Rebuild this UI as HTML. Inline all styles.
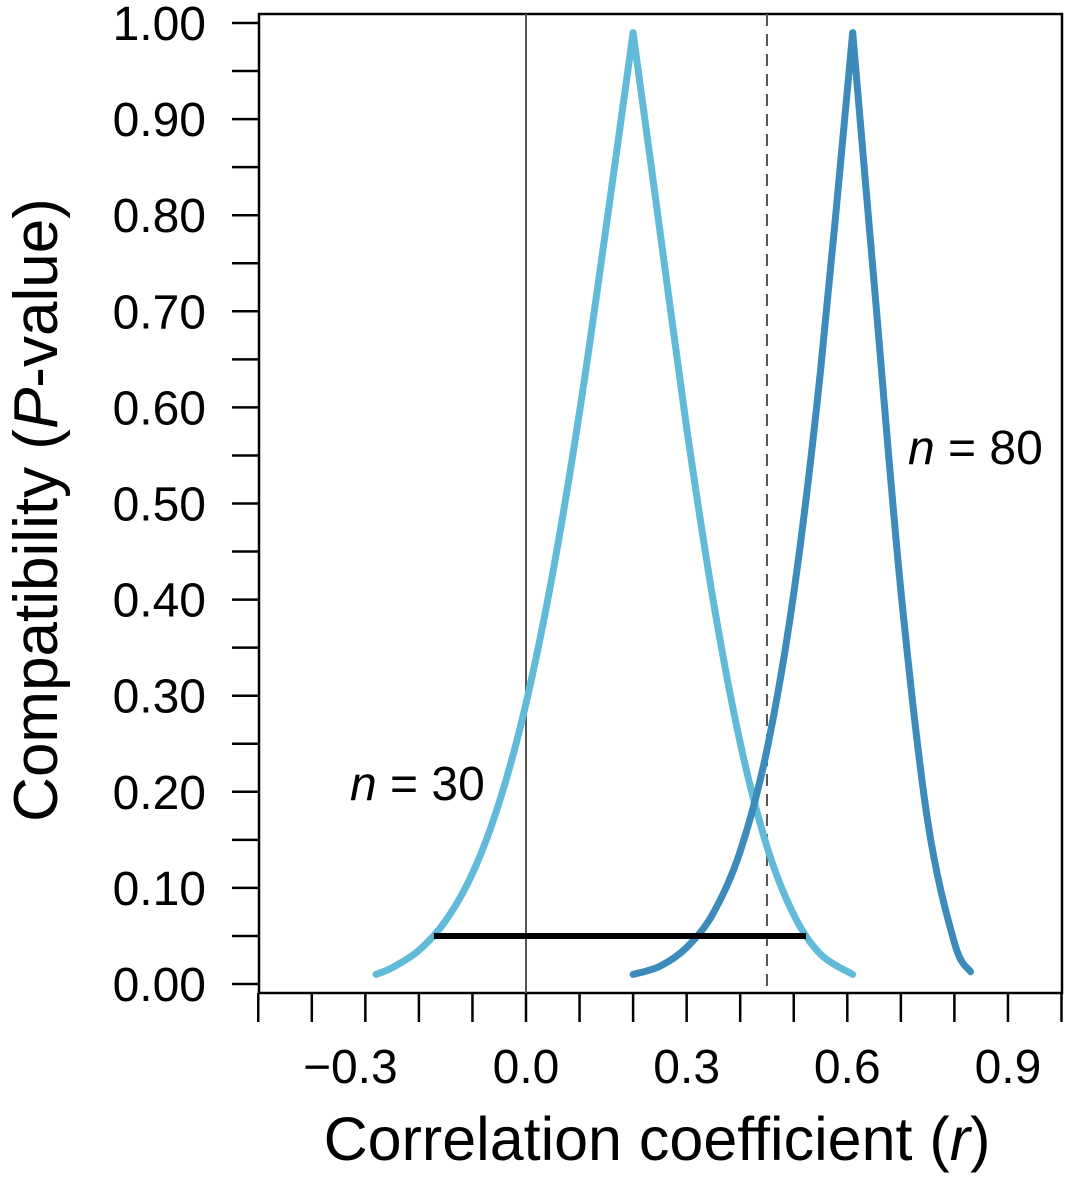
<!DOCTYPE html>
<html><head><meta charset="utf-8"><style>
html,body{margin:0;padding:0;background:#fff}
svg{display:block;font-family:"Liberation Sans",Arial,sans-serif}
</style></head><body>
<svg id="chart" width="1065" height="1181">
<g id="g"></g>
</svg>
<script>
const xTicks=[-0.5,-0.4,-0.3,-0.2,-0.1,0,0.1,0.2,0.3,0.4,0.5,0.6,0.7,0.8,0.9,1.0];
const xLabels=[-0.3,0.0,0.3,0.6,0.9];
const yTicks=[0,0.1,0.2,0.3,0.4,0.5,0.6,0.7,0.8,0.9,1.0];
const n30X=[-0.28,-0.25,-0.2,-0.15,-0.1,-0.05,0,0.05,0.1,0.15,0.2,0.25,0.3,0.35,0.4,0.45,0.5,0.55,0.61];
const n30P=[0.01,0.017,0.035,0.066,0.115,0.189,0.292,0.428,0.595,0.789,0.99,0.784,0.579,0.398,0.251,0.143,0.072,0.031,0.01];
const n80X=[0.2,0.25,0.3,0.35,0.4,0.45,0.5,0.55,0.61,0.65,0.7,0.75,0.8,0.83];
const n80P=[0.01,0.0185,0.038,0.074,0.138,0.244,0.407,0.638,0.99,0.73,0.41,0.17,0.043,0.0128];
const ciRange=[-0.172,0.523];
const ciLevel=0.05;
const refLine=0.45;

const X=v=>526+v*535.5;
const Y=v=>984-v*961;
const NS="http://www.w3.org/2000/svg";
const g=document.getElementById('g');
function mk(t,a,txt){const e=document.createElementNS(NS,t);for(const k in a)e.setAttribute(k,a[k]);if(txt!=null)e.textContent=txt;g.appendChild(e);return e;}

let e;
e=mk('rect',{x:259,y:14,width:803,height:979,fill:'none',stroke:'#000','stroke-width':2.5});


for(let i=0;i<=20;i++){const v=i*0.05;
 e=mk('line',{x1:232,x2:259,y1:Y(v),y2:Y(v),stroke:'#000','stroke-width':2.5});
 
 }
yTicks.forEach(v=>{
 e=mk('text',{x:206,y:Y(v)+17,'text-anchor':'end','font-size':48},v.toFixed(2));
 
 });
xTicks.forEach(v=>{
 e=mk('line',{x1:X(v),x2:X(v),y1:993,y2:1022,stroke:'#000','stroke-width':2.5});
 
 });
xLabels.forEach(v=>{
 const s=v<0?'\u2212'+Math.abs(v).toFixed(1):v.toFixed(1);
 e=mk('text',{x:X(v)-(v<0?15:0),y:1083,'text-anchor':'middle','font-size':48},s);
 
 });
e=mk('line',{x1:X(0),x2:X(0),y1:14,y2:993,stroke:'#555','stroke-width':2});


e=mk('line',{x1:X(refLine),x2:X(refLine),y1:14,y2:993,stroke:'#555','stroke-width':2,'stroke-dasharray':'12,8'});


function smooth(pts){
 let d='';
 for(let i=0;i<pts.length-1;i++){
  const p0=pts[Math.max(i-1,0)],p1=pts[i],p2=pts[i+1],p3=pts[Math.min(i+2,pts.length-1)];
  const c1=[p1[0]+(p2[0]-p0[0])/6,p1[1]+(p2[1]-p0[1])/6];
  const c2=[p2[0]-(p3[0]-p1[0])/6,p2[1]-(p3[1]-p1[1])/6];
  d+=' C'+c1.map(n=>n.toFixed(1))+' '+c2.map(n=>n.toFixed(1))+' '+p2.map(n=>n.toFixed(1));
 }
 return d;
}
function curve(xs,ps,col,name){
 let k=0;ps.forEach((p,i)=>{if(p>ps[k])k=i;});
 const pts=xs.map((x,i)=>[X(x),Y(ps[i])]);
 const left=pts.slice(0,k+1),right=pts.slice(k);
 const d='M'+left[0].map(n=>n.toFixed(1))+smooth(left)+smooth(right);
 e=mk('path',{d:d,fill:'none',stroke:col,'stroke-width':7,'stroke-linecap':'round','stroke-linejoin':'round'});
 
 
}
curve(n30X,n30P,'#62bad9','curve-n30');
curve(n80X,n80P,'#3c8bbb','curve-n80');
e=mk('line',{x1:X(ciRange[0]),x2:X(ciRange[1]),y1:Y(ciLevel),y2:Y(ciLevel),stroke:'#000','stroke-width':6});


e=mk('text',{x:908,y:464,'font-size':48});
e.innerHTML='<tspan font-style="italic">n</tspan> = 80';


e=mk('text',{x:350,y:800,'font-size':48});
e.innerHTML='<tspan font-style="italic">n</tspan> = 30';


e=mk('text',{x:657,y:1160,'text-anchor':'middle','font-size':61});
e.innerHTML='Correlation coefficient (<tspan font-style="italic">r</tspan>)';


e=mk('text',{x:0,y:0,'text-anchor':'middle','font-size':62,transform:'translate(57,510) rotate(-90)'});
e.innerHTML='Compatibility (<tspan font-style="italic">P</tspan>-value)';


</script>
</body></html>
